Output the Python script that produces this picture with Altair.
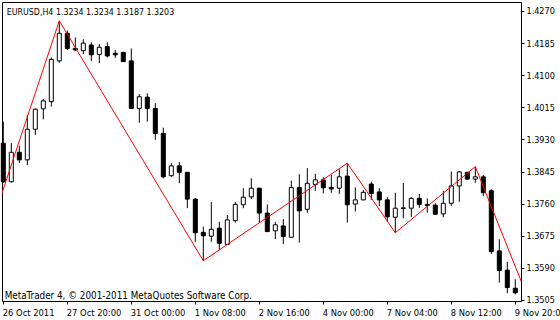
import json
import altair as alt
import pandas as pd

# ---- data (EURUSD H4 candles, left to right) ----
opens = [1.3920, 1.3818, 1.3896, 1.3876, 1.3957, 1.4011, 1.4030, 1.4138, 1.4211, 1.4171,
         1.4165, 1.4180, 1.4155, 1.4176, 1.4158, 1.4160, 1.4138, 1.4012, 1.4042, 1.4012,
         1.3946, 1.3834, 1.3860, 1.3843, 1.3772, 1.3684, 1.3674, 1.3695, 1.3652, 1.3715,
         1.3757, 1.3778, 1.3801, 1.3735, 1.3688, 1.3701, 1.3671, 1.3803, 1.3745, 1.3811,
         1.3823, 1.3803, 1.3801, 1.3833, 1.3759, 1.3770, 1.3812, 1.3791, 1.3770, 1.3724,
         1.3747, 1.3748, 1.3774, 1.3758, 1.3756, 1.3733, 1.3761, 1.3807, 1.3843, 1.3825,
         1.3831, 1.3794, 1.3635, 1.3584, 1.3536]
highs = [1.3977, 1.3920, 1.3913, 1.3995, 1.4012, 1.4037, 1.4147, 1.4244, 1.4218, 1.4200,
         1.4195, 1.4187, 1.4183, 1.4187, 1.4167, 1.4162, 1.4171, 1.4050, 1.4052, 1.4026,
         1.3961, 1.3867, 1.3870, 1.3843, 1.3775, 1.3699, 1.3764, 1.3712, 1.3730, 1.3764,
         1.3801, 1.3827, 1.3802, 1.3758, 1.3712, 1.3719, 1.3821, 1.3838, 1.3854, 1.3839,
         1.3830, 1.3836, 1.3851, 1.3867, 1.3803, 1.3796, 1.3818, 1.3801, 1.3777, 1.3789,
         1.3815, 1.3777, 1.3786, 1.3774, 1.3761, 1.3794, 1.3845, 1.3846, 1.3844, 1.3858,
         1.3836, 1.3798, 1.3666, 1.3606, 1.3560]
lows = [1.3815, 1.3816, 1.3868, 1.3862, 1.3942, 1.3983, 1.4017, 1.4133, 1.4167, 1.4164,
        1.4156, 1.4138, 1.4132, 1.4147, 1.4146, 1.4135, 1.4011, 1.3974, 1.3977, 1.3929,
        1.3827, 1.3831, 1.3814, 1.3748, 1.3659, 1.3609, 1.3659, 1.3637, 1.3651, 1.3710,
        1.3748, 1.3772, 1.3709, 1.3685, 1.3666, 1.3653, 1.3670, 1.3657, 1.3736, 1.3794,
        1.3787, 1.3789, 1.3786, 1.3710, 1.3739, 1.3769, 1.3770, 1.3754, 1.3712, 1.3683,
        1.3721, 1.3725, 1.3749, 1.3736, 1.3730, 1.3724, 1.3754, 1.3765, 1.3824, 1.3815,
        1.3780, 1.3627, 1.3551, 1.3523, 1.3520]
closes = [1.3818, 1.3896, 1.3876, 1.3957, 1.4010, 1.4032, 1.4142, 1.4211, 1.4171, 1.4167,
          1.4185, 1.4154, 1.4174, 1.4151, 1.4154, 1.4136, 1.4012, 1.4043, 1.4012, 1.3946,
          1.3831, 1.3860, 1.3843, 1.3772, 1.3683, 1.3675, 1.3692, 1.3655, 1.3717, 1.3758,
          1.3777, 1.3801, 1.3735, 1.3686, 1.3704, 1.3673, 1.3803, 1.3741, 1.3814, 1.3823,
          1.3802, 1.3799, 1.3831, 1.3757, 1.3770, 1.3790, 1.3787, 1.3770, 1.3725, 1.3748,
          1.3749, 1.3774, 1.3758, 1.3755, 1.3732, 1.3761, 1.3807, 1.3844, 1.3825, 1.3831,
          1.3789, 1.3633, 1.3583, 1.3538, 1.3524]

# ZigZag vertices (bar index, price); first and last lie just outside the view
zz_bars = [-1, 7, 25, 43, 49, 59, 66]
zz_prices = [1.3735, 1.4244, 1.3609, 1.3867, 1.3683, 1.3858, 1.3488]

price_ticks = [1.3505, 1.3590, 1.3675, 1.3760, 1.3845, 1.3930, 1.4015, 1.4100, 1.4185, 1.4270]
time_tick_bars = [0, 8, 16, 24, 32, 40, 48, 56, 64]
time_labels = ["26 Oct 2011", "27 Oct 20:00", "31 Oct 00:00", "1 Nov 08:00", "2 Nov 16:00",
               "4 Nov 00:00", "7 Nov 04:00", "8 Nov 12:00", "9 Nov 20:00"]

header_text = "EURUSD,H4  1.3234 1.3234 1.3187 1.3203"
footer_text = "MetaTrader 4, \u00a9 2001-2011 MetaQuotes Software Corp."

FONT = "DejaVu Sans Condensed"

df = pd.DataFrame({
    "bar": list(range(len(opens))),
    "open": opens, "high": highs, "low": lows, "close": closes,
})
df["up"] = df["close"] >= df["open"]
zz = pd.DataFrame({"bar": zz_bars, "price": zz_prices})

W, H = 519, 299
xscale = alt.Scale(domain=[-0.1625, 64.7125], nice=False, zero=False, padding=0)
yscale = alt.Scale(domain=[1.350232, 1.429382], nice=False, zero=False, padding=0)

label_expr = json.dumps(time_labels) + "[round(datum.value / 8)]"

xaxis = alt.Axis(values=time_tick_bars, labelExpr=label_expr, orient="bottom",
                 title=None, grid=False, domain=False, ticks=True, tickSize=3,
                 tickColor="black", labelAlign="left", labelBaseline="alphabetic",
                 labelPadding=11, labelOffset=-1, labelFont=FONT, labelFontSize=9.3,
                 labelColor="black", labelOverlap=False, labelFlush=False)
yaxis = alt.Axis(values=price_ticks, format=".4f", orient="right", title=None,
                 grid=False, domain=False, tickSize=3, tickColor="black",
                 labelPadding=2, labelFont=FONT, labelFontSize=9.0, labelColor="black",
                 labelOverlap=False, labelFlush=False, labelBaseline="middle",
                 labelSeparation=0)

base = alt.Chart(df)

wicks = base.mark_rule(color="black", strokeWidth=1).encode(
    x=alt.X("bar:Q", scale=xscale, axis=xaxis),
    y=alt.Y("low:Q", scale=yscale, axis=yaxis),
    y2="high:Q",
)

bodies = base.mark_bar(size=4, stroke="black", strokeWidth=1).encode(
    x=alt.X("bar:Q", scale=xscale, axis=xaxis),
    y=alt.Y("open:Q", scale=yscale, axis=yaxis),
    y2="close:Q",
    fill=alt.condition("datum.up", alt.value("white"), alt.value("black")),
)

zigzag = alt.Chart(zz).mark_line(color="#ff0000", strokeWidth=1, clip=True).encode(
    x=alt.X("bar:Q", scale=xscale, axis=xaxis),
    y=alt.Y("price:Q", scale=yscale, axis=yaxis),
)

header = alt.Chart(pd.DataFrame({"t": [header_text]})).mark_text(
    align="left", baseline="alphabetic", font=FONT, fontSize=8.8, color="black"
).encode(text="t:N", x=alt.value(4.7), y=alt.value(13))

footer = alt.Chart(pd.DataFrame({"t": [footer_text]})).mark_text(
    align="left", baseline="alphabetic", font=FONT, fontSize=9.8, color="black"
).encode(text="t:N", x=alt.value(2.7), y=alt.value(296.5))

chart = alt.layer(wicks, bodies, zigzag, header, footer).properties(
    width=W, height=H,
    autosize=alt.AutoSizeParams(type="none"),
    padding={"left": 2, "top": 2, "right": 560 - 2 - W, "bottom": 320 - 2 - H},
    background="white",
).configure_view(stroke="black", strokeWidth=1).configure_axis(labelOverlap=False)

chart.save("out.html", embed_options={"renderer": "svg", "actions": False})
